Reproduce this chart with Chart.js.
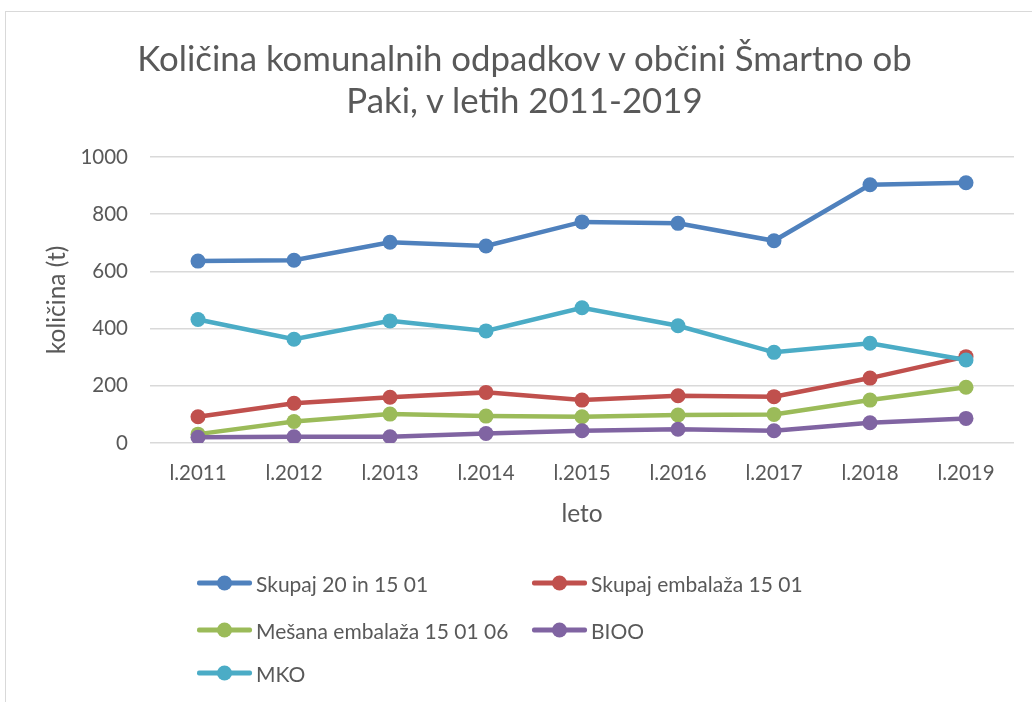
<!DOCTYPE html>
<html>
<head>
<meta charset="utf-8">
<script src="https://cdn.jsdelivr.net/npm/chart.js@4.4.1/dist/chart.umd.min.js"></script>
<style>
  html, body { margin: 0; padding: 0; background: #fff; overflow: hidden; }
  #wrap { position: relative; width: 1032px; height: 702px; }
  #frame { position: absolute; left: 5px; top: 11px; width: 1100px; height: 800px; border: 1px solid #d9d9d9; }
  #chart { position: absolute; left: 0; top: 0; }
  #title { position: absolute; left: 0; top: 37px; width: 1049px; text-align: center; font-family: Lato, sans-serif; font-size: 34.8px; line-height: 42px; color: #595959; }
  .lg-item { position: absolute; display: flex; align-items: center; font-family: Lato, sans-serif; font-size: 21px; color: #595959; white-space: nowrap; transform: translateY(-50%); }
  .lg-mark { position: relative; width: 55px; height: 15px; margin-right: 4px; }
  .lg-mark .ln { position: absolute; left: 0; right: 0; top: 5.25px; height: 4.5px; border-radius: 2px; }
  .lg-mark .dot { position: absolute; left: 20px; top: 0; width: 15px; height: 15px; border-radius: 50%; }
</style>
</head>
<body>
<div id="wrap">
  <div id="frame"></div>
  <canvas id="chart" width="1032" height="702"></canvas>
  <div id="title">Količina komunalnih odpadkov v občini Šmartno ob<br>Paki, v letih 2011-2019</div>
  <div id="legend"></div>
</div>
<script>
// Data
const years = ['l.2011', 'l.2012', 'l.2013', 'l.2014', 'l.2015', 'l.2016', 'l.2017', 'l.2018', 'l.2019'];
const skupaj = [636, 639, 702, 689, 773, 768, 707, 903, 910];
const embalaza = [92, 139, 160, 177, 150, 165, 162, 227, 302];
const mesana = [31, 75, 101, 94, 92, 98, 100, 150, 195];
const bioo = [20, 22, 22, 33, 43, 48, 43, 71, 86];
const mko = [432, 363, 427, 392, 473, 410, 317, 349, 290];
const yTicks = [0, 200, 400, 600, 800, 1000];

const seriesNames = ['Skupaj 20 in 15 01', 'Skupaj embalaža 15 01', 'Mešana embalaža 15 01 06', 'BIOO', 'MKO'];
const seriesColors = ['#4F81BD', '#C0504D', '#9BBB59', '#8064A2', '#4BACC6'];
const seriesValues = [skupaj, embalaza, mesana, bioo, mko];

const TEXT = '#595959';
const FONT = 'Lato, sans-serif';

const datasets = seriesNames.map((name, i) => ({
  label: name,
  data: seriesValues[i],
  borderColor: seriesColors[i],
  backgroundColor: seriesColors[i],
  pointBackgroundColor: seriesColors[i],
  pointBorderWidth: 0,
  pointRadius: 7.5,
  pointHoverRadius: 7.5,
  borderWidth: 4.5,
  tension: 0,
  order: seriesNames.length - i, // later series on top, like Excel
}));

new Chart(document.getElementById('chart'), {
  type: 'line',
  data: { labels: years, datasets },
  options: {
    responsive: false,
    animation: false,
    layout: { padding: { left: 0, right: 18, top: 157, bottom: 169 } },
    plugins: {
      legend: { display: false },
      tooltip: { enabled: false },
    },
    scales: {
      x: {
        offset: true,
        grid: { display: false, drawTicks: false },
        border: { display: false },
        ticks: { color: TEXT, font: { family: FONT, size: 20.5 }, padding: 18, maxRotation: 0 },
        title: { display: true, text: 'leto', color: TEXT, font: { family: FONT, size: 24.5 }, padding: { top: 0, bottom: 4 } },
        afterFit: (s) => { s.height = 90; },
      },
      y: {
        min: 0,
        max: 1000,
        afterBuildTicks: (s) => { s.ticks = yTicks.map(v => ({ value: v })); },
        grid: { color: '#d9d9d9', lineWidth: 1.5, drawTicks: false },
        border: { display: false },
        ticks: { color: TEXT, font: { family: FONT, size: 20.5 }, padding: 22, callback: (v) => String(v) },
        title: { display: true, text: 'količina (t)', color: TEXT, font: { family: FONT, size: 24.5 }, padding: { top: 42, bottom: 0 } },
        afterFit: (s) => { s.width = 150; },
      },
    },
  },
});

// Legend laid out in two columns like the original
const legendPos = [[197, 583], [532, 583], [197, 630], [532, 630], [197, 673]];
const legendEl = document.getElementById('legend');
seriesNames.forEach((name, i) => {
  const item = document.createElement('div');
  item.className = 'lg-item';
  item.style.left = legendPos[i][0] + 'px';
  item.style.top = legendPos[i][1] + 'px';
  item.innerHTML = `<span class="lg-mark"><span class="ln" style="background:${seriesColors[i]}"></span>` +
    `<span class="dot" style="background:${seriesColors[i]}"></span></span><span>${name}</span>`;
  legendEl.appendChild(item);
});
</script>
</body>
</html>
